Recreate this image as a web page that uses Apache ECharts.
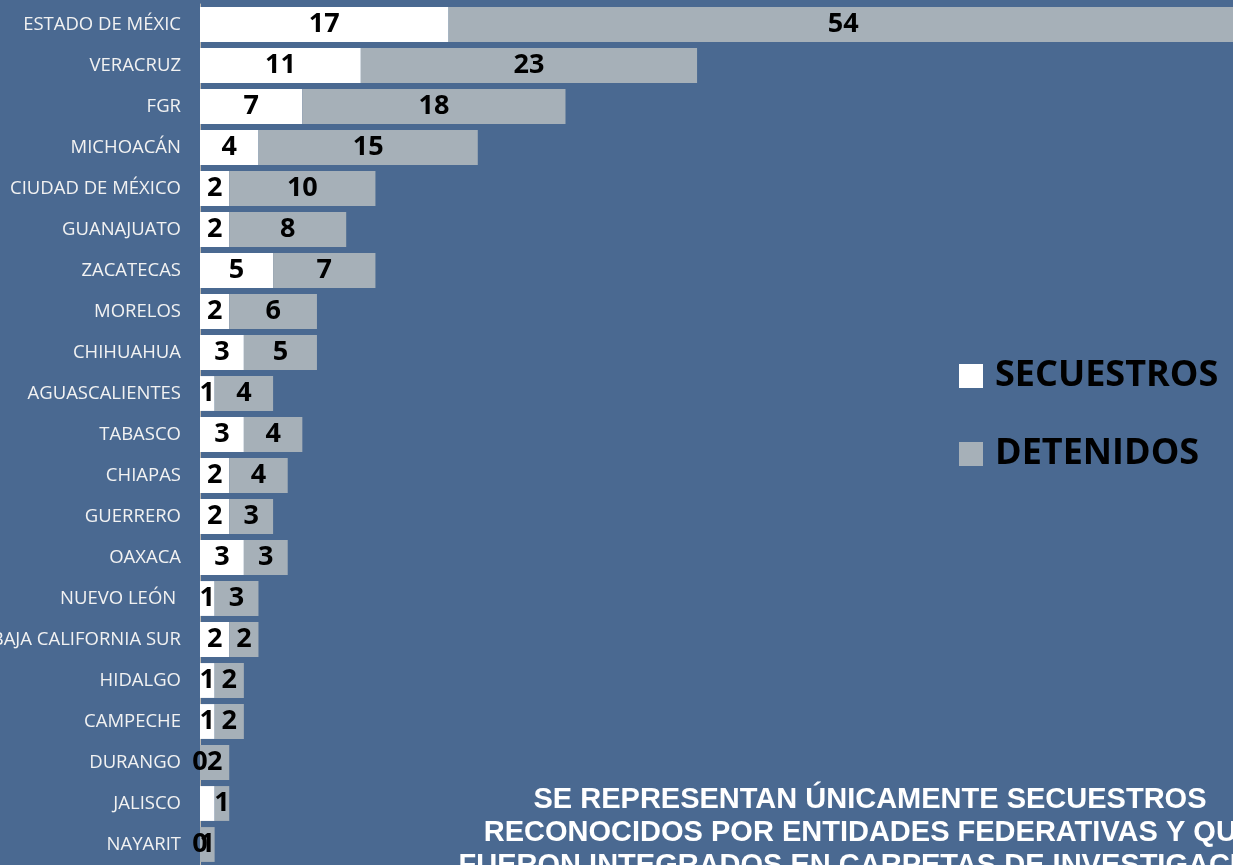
<!DOCTYPE html>
<html>
<head>
<meta charset="utf-8">
<script src="https://cdn.jsdelivr.net/npm/echarts@6/dist/echarts.min.js"></script>
<style>
  html, body { margin: 0; padding: 0; background: #4a6991; }
  #main { width: 1233px; height: 865px; }
</style>
</head>
<body>
<div id="main"></div>
<script>
// entidades, de arriba hacia abajo
var categorias = ['ESTADO DE MÉXIC', 'VERACRUZ', 'FGR', 'MICHOACÁN', 'CIUDAD DE MÉXICO',
  'GUANAJUATO', 'ZACATECAS', 'MORELOS', 'CHIHUAHUA', 'AGUASCALIENTES', 'TABASCO',
  'CHIAPAS', 'GUERRERO', 'OAXACA', 'NUEVO LEÓN ', 'BAJA CALIFORNIA SUR', 'HIDALGO',
  'CAMPECHE', 'DURANGO', 'JALISCO', 'NAYARIT'];
var secuestros = [17, 11, 7, 4, 2, 2, 5, 2, 3, 1, 3, 2, 2, 3, 1, 2, 1, 1, 0, 1, 0];
var detenidos = [54, 23, 18, 15, 10, 8, 7, 6, 5, 4, 4, 4, 3, 3, 3, 2, 2, 2, 2, 1, 1];
// etiquetas que no aparecen en la gráfica original
var sinEtiqueta = ['JALISCO'];

var nota = ['SE REPRESENTAN ÚNICAMENTE SECUESTROS',
  'RECONOCIDOS POR ENTIDADES FEDERATIVAS Y QUE',
  'FUERON INTEGRADOS EN CARPETAS DE INVESTIGACIÓN'];

var myChart = echarts.init(document.getElementById('main'));

var etiqueta = {
  show: true,
  position: 'inside',
  color: '#000',
  fontFamily: 'Open Sans',
  fontWeight: 'bold',
  fontSize: 27
};

var datosSec = secuestros.map(function (v, i) {
  if (sinEtiqueta.indexOf(categorias[i]) >= 0) {
    return { value: v, label: { show: false } };
  }
  return v;
});

var option = {
  backgroundColor: '#4a6991',
  animation: false,
  grid: { left: 200, top: 4, width: 1038, height: 861, containLabel: false, outerBoundsMode: 'none' },
  legend: {
    orient: 'vertical',
    left: 959,
    top: 358,
    padding: 0,
    itemWidth: 24,
    itemHeight: 24,
    itemGap: 42,
    icon: 'rect',
    textStyle: { color: '#000', fontFamily: 'Open Sans', fontWeight: 'bold', fontSize: 36, lineHeight: 34, padding: [0, 0, 0, 7] },
    data: ['SECUESTROS', 'DETENIDOS']
  },
  xAxis: {
    type: 'value',
    min: 0,
    max: 71,
    show: false
  },
  yAxis: {
    type: 'category',
    inverse: true,
    data: categorias,
    axisLine: { show: true, lineStyle: { color: '#bdbab4', width: 1 } },
    axisTick: { show: false },
    axisLabel: { color: '#f2f2f2', fontFamily: 'Open Sans', fontSize: 18.5, margin: 19 }
  },
  series: [
    {
      name: 'SECUESTROS',
      type: 'bar',
      stack: 'total',
      barCategoryGap: '15%',
      itemStyle: { color: '#ffffff' },
      label: etiqueta,
      data: datosSec
    },
    {
      name: 'DETENIDOS',
      type: 'bar',
      stack: 'total',
      barCategoryGap: '15%',
      itemStyle: { color: '#a6b0b8' },
      label: etiqueta,
      data: detenidos
    }
  ],
  graphic: nota.map(function (t, i) {
    return {
      type: 'text',
      x: 870,
      y: 785 + i * 33,
      style: {
        text: t,
        textAlign: 'center',
        textVerticalAlign: 'top',
        fill: '#ffffff',
        font: 'bold 29px "Liberation Sans", Arial'
      },
      silent: true
    };
  })
};

myChart.setOption(option);
</script>
</body>
</html>
